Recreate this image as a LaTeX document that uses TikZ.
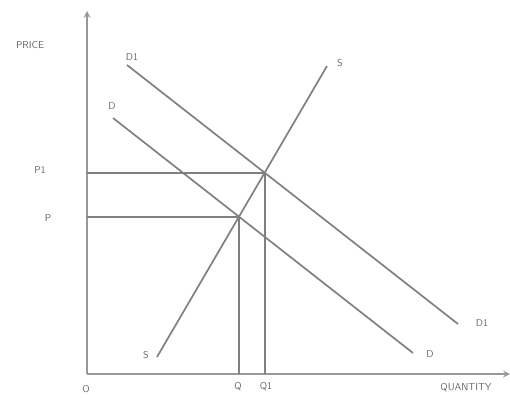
\documentclass[tikz,border=0pt]{standalone}
\usepackage{amsmath}
\usepackage{amssymb}
\usepackage{tikz}

\begin{document}
\begin{tikzpicture}[x=1pt,y=-1pt,line width=1.7pt,draw=black!50,
    lbl/.style={text=black!60,font=\sffamily,inner sep=1pt}]
            \useasboundingbox (0,0) rectangle (510,397);

            \coordinate (o) at (87,374);
            \coordinate (ytop) at (87,11);
            \coordinate (xend) at (510,374);

            \coordinate (d1a) at (127,65);
            \coordinate (d1b) at (458,324);
            \coordinate (da) at (113,118);
            \coordinate (db) at (413,353);
            \coordinate (sa) at (157,357);
            \coordinate (sb) at (327,66);

            \coordinate (e1) at (intersection of d1a--d1b and sa--sb);
            \coordinate (e) at (intersection of da--db and sa--sb);

            \draw[->,>=stealth,draw=black!40,line width=2pt] (o)--(ytop);
            \draw[->,>=stealth,draw=black!40,line width=2pt] (o)--(xend);

            \draw (d1a)--(d1b);
            \draw (da)--(db);
            \draw (sa)--(sb);

            \draw (e1)--(e1 -| o);
            \draw (e)--(e -| o);
            \draw (e1)--(e1 |- o);
            \draw (e)--(e |- o);

            \node[lbl] (price) at (30,45) {PRICE};
            \node[lbl] (d1top) at (132,57) {D1};
            \node[lbl] (dtop) at (112,106) {D};
            \node[lbl] (stop) at (340,63) {S};
            \node[lbl] (sbot) at (146,355) {S};
            \node[lbl] (d1bot) at (482,323) {D1};
            \node[lbl] (dbot) at (430,354) {D};
            \node[lbl] (p1) at (40,170) {P1};
            \node[lbl] (p) at (48,218) {P};
            \node[lbl] (orig) at (86,389) {O};
            \node[lbl] (q) at (238,387) {Q};
            \node[lbl] (q1) at (266,387) {Q1};
            \node[lbl] (qty) at (466,388) {QUANTITY};
        \end{tikzpicture}
\end{document}
